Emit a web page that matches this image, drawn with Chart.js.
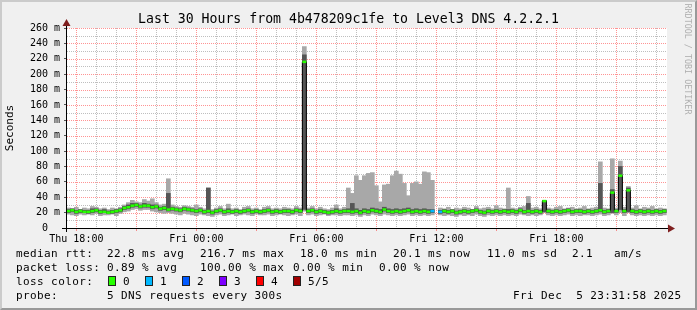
<!DOCTYPE html>
<html>
<head>
<meta charset="utf-8">
<script src="https://cdn.jsdelivr.net/npm/chart.js@4.4.1/dist/chart.umd.min.js"></script>
<style>
  html, body { margin: 0; padding: 0; }
  body { width: 697px; height: 310px; position: relative; overflow: hidden; background: #f0f0f0;
         font-family: "DejaVu Sans Mono", monospace; color: #000; }
  #frame { position: absolute; left: 0; top: 0; width: 697px; height: 310px; box-sizing: border-box;
           border-style: solid; border-width: 2px; border-color: #cbcbcb #999 #999 #cbcbcb; }
  #c { position: absolute; left: 0; top: 0; }
  .t { position: absolute; white-space: pre; font-size: 11px; letter-spacing: 0.4px; line-height: 14px; }
  .title { position: absolute; left: 0; top: 12px; width: 697px; text-align: center; white-space: pre;
           font-size: 13.2px; line-height: 14px; }
  .box { position: absolute; top: 276px; width: 8px; height: 10px; box-sizing: border-box; border: 1px solid #222; }
  .vlabel { position: absolute; left: -40px; top: 121px; width: 100px; height: 14px; line-height: 14px;
            text-align: center; font-size: 11px; transform: rotate(-90deg); }
  .mark { position: absolute; left: 628px; top: 53px; width: 120px; height: 12px; line-height: 12px;
          text-align: center; font-size: 8.4px; color: #b0b0b0; transform: rotate(90deg); white-space: pre; }
</style>
</head>
<body>
<div id="frame"></div>
<canvas id="c" width="697" height="310"></canvas>

<div class="title">Last 30 Hours from 4b478209c1fe to Level3 DNS 4.2.2.1</div>
<div class="vlabel">Seconds</div>
<div class="mark">RRDTOOL / TOBI OETIKER</div>

<div class="t" style="left:16px;top:247px">median rtt:</div>
<div class="t" style="left:107px;top:247px">22.8 ms avg</div>
<div class="t" style="left:200px;top:247px">216.7 ms max</div>
<div class="t" style="left:300px;top:247px">18.0 ms min</div>
<div class="t" style="left:393px;top:247px">20.1 ms now</div>
<div class="t" style="left:487px;top:247px">11.0 ms sd</div>
<div class="t" style="left:572px;top:247px">2.1</div>
<div class="t" style="left:614px;top:247px">am/s</div>

<div class="t" style="left:16px;top:261px">packet loss:</div>
<div class="t" style="left:107px;top:261px">0.89 % avg</div>
<div class="t" style="left:200px;top:261px">100.00 % max</div>
<div class="t" style="left:293px;top:261px">0.00 % min</div>
<div class="t" style="left:379px;top:261px">0.00 % now</div>

<div class="t" style="left:16px;top:275px">loss color:</div>
<div id="lossLegend"></div>

<div class="t" style="left:16px;top:289px">probe:</div>
<div class="t" style="left:107px;top:289px">5 DNS requests every 300s</div>
<div class="t" style="left:513px;top:289px">Fri Dec  5 23:31:58 2025</div>

<script>
// time axis: hours counted from Thu 00:00, one sample every 12 minutes
const axisStart = 17 + 31 / 60 + 58 / 3600;   // Thu 17:31:58
const axisEnd = axisStart + 30;                // Fri 23:31:58
const firstSample = 17.6;
const sampleStep = 0.2;

const xTickHours = [18, 24, 30, 36, 42];
const xTickLabels = ['Thu 18:00', 'Fri 00:00', 'Fri 06:00', 'Fri 12:00', 'Fri 18:00'];

// median rtt (ms)
const median = [
  22, 23, 21, 22, 21, 21, 22, 23, 21, 21,
  20, 21, 22, 23, 26, 27, 29, 30, 28, 29,
  29, 27, 28, 25, 26, 24, 25, 24, 23, 25,
  24, 23, 22, 23, 21, 22, 20, 22, 23, 21,
  22, 21, 22, 21, 22, 23, 21, 22, 21, 22,
  23, 21, 22, 21, 22, 22, 21, 23, 22, 216,
  22, 23, 21, 22, 21, 20, 21, 22, 21, 22,
  22, 21, 22, 20, 22, 21, 23, 22, 21, 24,
  22, 21, 22, 21, 22, 23, 21, 22, 21, 22,
  21, 22, null, 21, 22, 21, 22, 20, 21, 22,
  21, 22, 23, 21, 20, 22, 21, 22, 21, 22,
  21, 22, 21, 23, 21, 22, 21, 22, 21, 35,
  22, 21, 22, 21, 22, 23, 21, 22, 22, 21,
  22, 21, 22, 23, 21, 22, 46, 22, 68, 22,
  49, 22, 21, 22, 21, 22, 21, 22, 21, 22
];

// outer smoke: fastest and slowest of the 5 requests (ms)
const smokeLo = [
  18, 17, 16, 18, 17, 18, 17, 19, 16, 17,
  17, 18, 16, 19, 21, 22, 24, 25, 23, 24,
  24, 22, 21, 20, 19, 20, 19, 18, 17, 19,
  18, 17, 16, 18, 17, 16, 15, 17, 18, 16,
  17, 18, 16, 17, 18, 17, 16, 18, 17, 17,
  18, 16, 17, 18, 17, 16, 17, 18, 16, 22,
  17, 18, 16, 17, 18, 16, 17, 17, 16, 17,
  17, 16, 17, 15, 17, 16, 18, 17, 16, 18,
  17, 16, 17, 16, 17, 18, 16, 17, 16, 17,
  16, 17, null, 17, 16, 17, 16, 15, 17, 16,
  17, 16, 18, 16, 15, 17, 16, 17, 16, 17,
  16, 17, 16, 18, 17, 16, 17, 16, 17, 20,
  17, 16, 17, 16, 17, 18, 16, 17, 16, 17,
  17, 16, 17, 18, 16, 17, 19, 17, 20, 16,
  20, 17, 16, 17, 16, 17, 16, 17, 16, 17
];
const smokeHi = [
  26, 25, 27, 24, 26, 25, 28, 27, 25, 26,
  24, 26, 25, 27, 30, 33, 36, 34, 33, 37,
  35, 38, 33, 30, 31, 64, 30, 28, 27, 29,
  28, 27, 30, 27, 25, 52, 24, 26, 28, 25,
  31, 25, 26, 24, 27, 28, 25, 26, 24, 27,
  28, 25, 26, 25, 27, 26, 25, 28, 26, 236,
  26, 28, 25, 27, 25, 24, 26, 30, 25, 27,
  52, 45, 68, 62, 68, 71, 72, 55, 34, 56,
  57, 68, 74, 70, 58, 42, 58, 60, 57, 73,
  72, 62, null, 26, 25, 27, 24, 26, 25, 27,
  26, 24, 28, 25, 26, 27, 25, 29, 26, 25,
  52, 26, 25, 27, 28, 41, 26, 27, 25, 36,
  26, 25, 27, 28, 25, 26, 27, 25, 26, 28,
  25, 26, 27, 86, 26, 25, 90, 26, 87, 27,
  54, 26, 29, 25, 27, 26, 28, 25, 26, 25
];

// inner (darker) smoke: 2nd and 4th of the 5 requests (ms)
const innerLo = [
  20, 21, 19, 20, 20, 19, 20, 21, 19, 20,
  19, 19, 20, 21, 24, 25, 27, 28, 26, 27,
  27, 25, 26, 23, 24, 22, 23, 22, 21, 23,
  22, 21, 20, 21, 19, 20, 18, 20, 21, 19,
  20, 19, 20, 19, 20, 21, 19, 20, 19, 20,
  21, 19, 20, 19, 20, 20, 19, 21, 20, 24,
  20, 21, 19, 20, 19, 18, 19, 20, 19, 20,
  20, 19, 20, 18, 20, 19, 21, 20, 19, 22,
  20, 19, 20, 19, 20, 21, 19, 20, 19, 20,
  19, 20, null, 19, 20, 19, 20, 18, 19, 20,
  19, 20, 21, 19, 18, 20, 19, 20, 19, 20,
  19, 20, 19, 21, 19, 20, 19, 20, 19, 21,
  20, 19, 20, 19, 20, 21, 19, 20, 20, 19,
  20, 19, 20, 21, 19, 20, 20, 20, 24, 20,
  21, 20, 19, 20, 19, 20, 19, 20, 19, 20
];
const innerHi = [
  24, 25, 23, 24, 23, 23, 25, 25, 23, 24,
  22, 23, 24, 25, 28, 30, 32, 32, 30, 32,
  31, 30, 30, 27, 28, 45, 27, 26, 25, 27,
  26, 25, 24, 25, 23, 52, 22, 24, 25, 23,
  25, 23, 24, 23, 24, 25, 23, 24, 23, 24,
  25, 23, 24, 23, 24, 24, 23, 25, 24, 225,
  24, 25, 23, 24, 23, 22, 23, 25, 23, 24,
  25, 32, 25, 23, 25, 24, 26, 25, 24, 27,
  25, 24, 25, 24, 25, 26, 24, 25, 24, 25,
  24, 24, null, 23, 24, 23, 24, 22, 23, 24,
  23, 24, 25, 23, 22, 24, 23, 24, 23, 24,
  24, 24, 23, 25, 23, 32, 23, 24, 23, 36,
  24, 23, 24, 23, 24, 25, 23, 24, 24, 23,
  24, 23, 24, 58, 23, 24, 50, 24, 80, 24,
  52, 24, 23, 24, 23, 24, 23, 24, 23, 24
];

// samples with lost requests
const lossIdx = [91, 93];
const lossCount = [1, 1];

const lossLabels = ['0', '1', '2', '3', '4', '5/5'];
const lossColors = ['#26ff00', '#00b8ff', '#0059ff', '#7e00ff', '#ff0000', '#a10000'];

const majorGrid = 'rgba(255,0,0,0.42)';
const minorGrid = 'rgba(128,128,128,0.5)';

// loss legend row
const boxX = [108, 145, 182, 219, 256, 293];
const legendEl = document.getElementById('lossLegend');
lossLabels.forEach((lab, k) => {
  const b = document.createElement('div');
  b.className = 'box';
  b.style.left = boxX[k] + 'px';
  b.style.background = lossColors[k];
  legendEl.appendChild(b);
  const t = document.createElement('div');
  t.className = 't';
  t.style.left = (boxX[k] + 15) + 'px';
  t.style.top = '275px';
  t.textContent = lab;
  legendEl.appendChild(t);
});

const times = median.map((_, i) => firstSample + i * sampleStep);

const outerData = [];
const innerData = [];
times.forEach((t, i) => {
  if (smokeLo[i] != null) outerData.push({ x: t, y: [smokeLo[i], smokeHi[i]] });
  if (innerLo[i] != null) innerData.push({ x: t, y: [innerLo[i], innerHi[i]] });
});
const medianData = times.map((t, i) => ({ x: t, y: median[i] }));

const lossAt = i => {
  const k = lossIdx.indexOf(i);
  return k < 0 ? 0 : lossCount[k];
};

const hourTicks = [];
for (let h = 18; h <= 47; h++) hourTicks.push(h);
const yTicks = [];
for (let v = 0; v <= 260; v += 10) yTicks.push(v);

// white canvas, dotted rrdtool grid, axes with arrow heads
const rrdFrame = {
  id: 'rrdFrame',
  beforeDraw(chart) {
    const { ctx, chartArea: a } = chart;
    ctx.save();
    ctx.fillStyle = '#ffffff';
    ctx.fillRect(a.left, a.top, a.right - a.left, a.bottom - a.top);
    ctx.restore();
  },
  beforeDatasetsDraw(chart) {
    const { ctx, chartArea: a, scales } = chart;
    ctx.save();
    ctx.lineWidth = 1;
    ctx.setLineDash([1, 1]);
    scales.x.ticks.forEach(tk => {
      const px = Math.round(scales.x.getPixelForValue(tk.value)) + 0.5;
      ctx.strokeStyle = tk.value % 3 === 0 ? majorGrid : minorGrid;
      ctx.beginPath();
      ctx.moveTo(px, a.top);
      ctx.lineTo(px, a.bottom);
      ctx.stroke();
    });
    scales.y.ticks.forEach(tk => {
      if (tk.value === 0) return;
      const py = Math.round(scales.y.getPixelForValue(tk.value)) + 0.5;
      ctx.strokeStyle = tk.value % 20 === 0 ? majorGrid : minorGrid;
      ctx.beginPath();
      ctx.moveTo(a.left, py);
      ctx.lineTo(a.right, py);
      ctx.stroke();
    });
    ctx.restore();
  },
  afterDraw(chart) {
    const { ctx, chartArea: a } = chart;
    const x0 = Math.round(a.left) - 0.5;
    const y0 = Math.round(a.bottom) + 0.5;
    ctx.save();
    ctx.strokeStyle = '#000';
    ctx.lineWidth = 1;
    ctx.beginPath();
    ctx.moveTo(a.left - 5, y0);
    ctx.lineTo(a.right + 3, y0);
    ctx.moveTo(x0, a.bottom + 4);
    ctx.lineTo(x0, a.top - 3);
    ctx.stroke();
    ctx.fillStyle = '#7f1f1f';
    ctx.beginPath();
    ctx.moveTo(a.right + 1, y0 - 4);
    ctx.lineTo(a.right + 8, y0);
    ctx.lineTo(a.right + 1, y0 + 4);
    ctx.closePath();
    ctx.fill();
    ctx.beginPath();
    ctx.moveTo(x0 - 4, a.top - 2);
    ctx.lineTo(x0, a.top - 9);
    ctx.lineTo(x0 + 4, a.top - 2);
    ctx.closePath();
    ctx.fill();
    ctx.restore();
  }
};

const tickFont = { family: 'DejaVu Sans Mono', size: 10 };

new Chart(document.getElementById('c'), {
  type: 'bar',
  data: {
    datasets: [
      {
        type: 'line', data: medianData, order: 1, showLine: false,
        pointStyle: 'line', pointRadius: 2, pointBorderWidth: 2.5,
        pointBorderColor: c => lossColors[lossAt(c.dataIndex)],
        pointBackgroundColor: c => lossColors[lossAt(c.dataIndex)]
      },
      {
        type: 'line', data: medianData, order: 2, borderColor: '#000', borderWidth: 1,
        stepped: 'middle', pointRadius: 0, spanGaps: false
      },
      { data: innerData, order: 3, backgroundColor: '#555555', grouped: false,
        barPercentage: 1, categoryPercentage: 1 },
      { data: outerData, order: 4, backgroundColor: '#a8a8a8', grouped: false,
        barPercentage: 1, categoryPercentage: 1 }
    ]
  },
  options: {
    responsive: false,
    animation: false,
    devicePixelRatio: 1,
    events: [],
    layout: { padding: { left: 0, top: 28, right: 30, bottom: 0 } },
    plugins: { legend: { display: false }, tooltip: { enabled: false } },
    scales: {
      x: {
        type: 'linear', min: axisStart, max: axisEnd, offset: false,
        afterBuildTicks: s => { s.ticks = hourTicks.map(v => ({ value: v })); },
        afterFit: s => { s.height = 82; },
        grid: {
          offset: false, drawOnChartArea: false, drawTicks: true, tickLength: 3,
          tickColor: c => (c.tick && c.tick.value % 3 === 0) ? majorGrid : 'rgba(0,0,0,0)'
        },
        border: { display: false },
        ticks: {
          autoSkip: false, maxRotation: 0, minRotation: 0, padding: 2, color: '#000', font: tickFont,
          callback: v => {
            const k = xTickHours.indexOf(v);
            return k < 0 ? '' : xTickLabels[k];
          }
        }
      },
      y: {
        min: 0, max: 260,
        afterBuildTicks: s => { s.ticks = yTicks.map(v => ({ value: v })); },
        afterFit: s => { s.width = 67; },
        grid: {
          drawOnChartArea: false, drawTicks: true, tickLength: 3,
          tickColor: c => (c.tick && c.tick.value % 20 === 0) ? '#555' : 'rgba(0,0,0,0)'
        },
        border: { display: false },
        ticks: {
          autoSkip: false, padding: 4, color: '#000', font: tickFont,
          callback: v => v % 20 !== 0 ? '' : (v === 0 ? '0  ' : v + ' m')
        }
      }
    }
  },
  plugins: [rrdFrame]
});
</script>
</body>
</html>
